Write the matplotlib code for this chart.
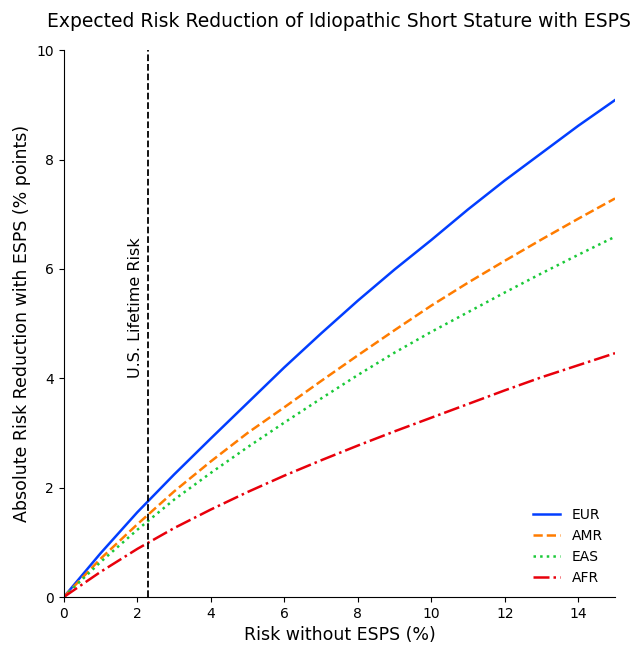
import numpy as np
import matplotlib.pyplot as plt

# risk without ESPS (%)
risk = [0, 1, 2, 3, 4, 5, 6, 7, 8, 9, 10, 11, 12, 13, 14, 15]

# absolute risk reduction (% points)
eur = [0, 0.80, 1.55, 2.24, 2.90, 3.55, 4.20, 4.82, 5.42, 5.99, 6.53, 7.09, 7.62, 8.12, 8.62, 9.09]
amr = [0, 0.70, 1.33, 1.93, 2.48, 3.00, 3.47, 3.95, 4.42, 4.88, 5.33, 5.75, 6.15, 6.54, 6.92, 7.29]
eas = [0, 0.64, 1.23, 1.78, 2.27, 2.74, 3.19, 3.63, 4.06, 4.47, 4.85, 5.21, 5.57, 5.92, 6.26, 6.59]
afr = [0, 0.46, 0.88, 1.26, 1.60, 1.92, 2.22, 2.50, 2.77, 3.03, 3.28, 3.53, 3.78, 4.02, 4.24, 4.46]

us_risk = 2.28

fig = plt.figure(figsize=(6.38, 6.45), dpi=100)
ax = fig.add_axes([0.1, 0.0744, 0.864, 0.8476])

ax.plot(risk, eur, color='#023eff', lw=1.8, ls='-', label='EUR')
ax.plot(risk, amr, color='#ff7c00', lw=1.8, ls='--', label='AMR')
ax.plot(risk, eas, color='#1ac938', lw=1.8, ls=':', label='EAS')
ax.plot(risk, afr, color='#e8000b', lw=1.8, ls='-.', label='AFR')

ax.axvline(us_risk, color='black', lw=1.3, ls='--')
ax.text(us_risk - 0.12, 4.0, 'U.S. Lifetime Risk', rotation=90, ha='right', va='bottom', fontsize=11.5)

ax.set_xlim(0, 15)
ax.set_ylim(0, 10)
ax.set_xticks([0, 2, 4, 6, 8, 10, 12, 14])
ax.set_yticks([0, 2, 4, 6, 8, 10])
ax.spines['top'].set_visible(False)
ax.spines['right'].set_visible(False)
ax.tick_params(labelsize=10)

ax.set_xlabel('Risk without ESPS (%)', fontsize=12.5)
ax.set_ylabel('Absolute Risk Reduction with ESPS (% points)', fontsize=12.5)
ax.set_title('Expected Risk Reduction of Idiopathic Short Stature with ESPS', fontsize=13.5, pad=17)
ax.legend(loc='lower right', frameon=False, fontsize=10)

fig.savefig('out.png', dpi=100)
